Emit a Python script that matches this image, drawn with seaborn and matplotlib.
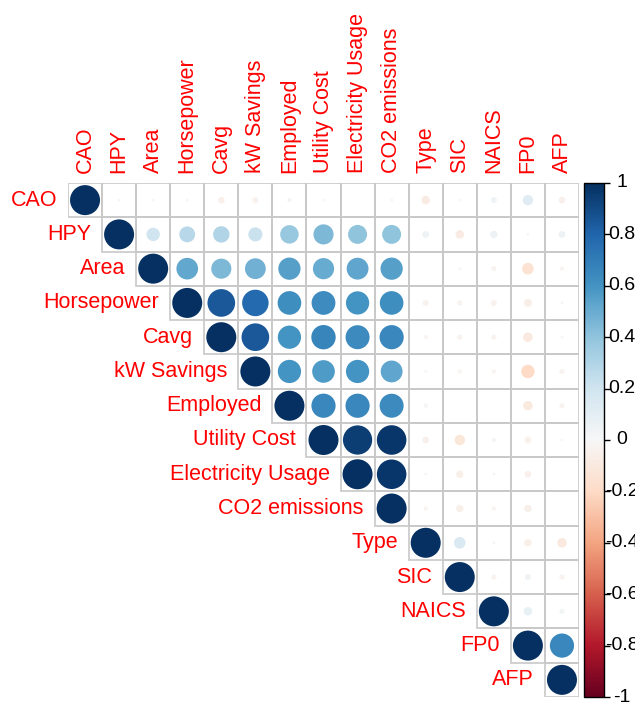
import numpy as np
import pandas as pd
import matplotlib
matplotlib.use("Agg")
import matplotlib.pyplot as plt
from matplotlib.patches import Rectangle
from matplotlib.colors import Normalize
import matplotlib.colorbar as mcolorbar
import seaborn as sns

sns.set_style("white")
plt.rcParams["font.family"] = ["Liberation Sans", "DejaVu Sans"]

variables = ["CAO", "HPY", "Area", "Horsepower", "Cavg", "kW Savings", "Employed",
             "Utility Cost", "Electricity Usage", "CO2 emissions", "Type", "SIC",
             "NAICS", "FP0", "AFP"]

# upper-triangle correlations, one list per row (starting at the diagonal)
r_cao = [1.00, 0.01, 0.01, 0.01, -0.05, -0.04, 0.02, 0.01, 0.00, 0.01, -0.08, 0.01, 0.04, 0.12, -0.05]
r_hpy = [1.00, 0.20, 0.28, 0.30, 0.22, 0.38, 0.45, 0.40, 0.40, 0.05, -0.08, 0.06, 0.01, 0.05]
r_area = [1.00, 0.52, 0.45, 0.48, 0.55, 0.50, 0.53, 0.55, 0.00, 0.01, -0.03, -0.15, -0.02]
r_hp = [1.00, 0.85, 0.78, 0.62, 0.63, 0.60, 0.62, -0.04, -0.03, -0.04, -0.07, -0.01]
r_cavg = [1.00, 0.85, 0.60, 0.66, 0.64, 0.65, -0.02, -0.03, -0.03, -0.10, 0.01]
r_kw = [1.00, 0.60, 0.57, 0.60, 0.53, 0.01, -0.02, -0.02, -0.20, -0.03]
r_emp = [1.00, 0.65, 0.65, 0.64, 0.02, 0.00, 0.00, -0.10, -0.03]
r_util = [1.00, 0.95, 0.97, -0.05, -0.12, -0.02, -0.05, 0.01]
r_elec = [1.00, 0.97, -0.01, -0.06, -0.01, -0.05, 0.00]
r_co2 = [1.00, -0.02, -0.06, -0.02, -0.06, 0.00]
r_type = [1.00, 0.15, -0.01, -0.06, -0.10]
r_sic = [1.00, -0.03, 0.04, -0.03]
r_naics = [1.00, 0.08, 0.03]
r_fp0 = [1.00, 0.65]
r_afp = [1.00]

rows = [r_cao, r_hpy, r_area, r_hp, r_cavg, r_kw, r_emp, r_util, r_elec, r_co2,
        r_type, r_sic, r_naics, r_fp0, r_afp]

records = []
for i, vals in enumerate(rows):
    for k, v in enumerate(vals):
        records.append({"row": i, "col": i + k, "r": v, "absr": abs(v)})
df = pd.DataFrame(records)

n = len(variables)
W, H = 635, 703
fig = plt.figure(figsize=(W / 100, H / 100), dpi=100)
ax = fig.add_axes([68 / W, 6 / H, 511 / W, 514 / H])

# cell borders for the upper triangle
for i in range(n):
    for j in range(i, n):
        ax.add_patch(Rectangle((j - 0.5, i - 0.5), 1, 1, fill=False,
                               edgecolor="#c8c8c8", linewidth=1.2, zorder=1))

cmap = plt.get_cmap("RdBu")
dmax_pt = 30 * 72 / 100
sns.scatterplot(data=df, x="col", y="row", hue="r", size="absr",
                palette=cmap, hue_norm=(-1, 1), sizes=(0, dmax_pt ** 2),
                size_norm=(0, 1), legend=False, linewidth=0, ax=ax, zorder=2)

ax.set_xlim(-0.5, n - 0.5)
ax.set_ylim(n - 0.5, -0.5)
ax.set_axis_off()

label_kw = dict(color="#ff0000", fontsize=15.5)
for j, name in enumerate(variables):
    ax.text(j, -0.78, name, rotation=90, ha="center", va="bottom", **label_kw)
for i, name in enumerate(variables):
    ax.text(i - 0.82, i, name, ha="right", va="center", **label_kw)

# colour legend bar
cax = fig.add_axes([584 / W, 6 / H, 20 / W, 514 / H])
cb = mcolorbar.ColorbarBase(cax, cmap=cmap, norm=Normalize(-1, 1), orientation="vertical")
cb.outline.set_edgecolor("black")
cb.outline.set_linewidth(1)
ticks = np.round(np.arange(-1, 1.01, 0.2), 1)
cax.set_yticks(ticks)
cax.set_yticklabels([])
cax.tick_params(axis="y", direction="out", length=4, width=1, color="black", right=True, left=False)
for t in ticks:
    lab = "0" if abs(t) < 1e-9 else ("%g" % t)
    cax.text(1.9, t, lab, ha="center", va="center", fontsize=14, color="black",
             transform=cax.get_yaxis_transform(), clip_on=False)

fig.savefig("out.png", dpi=100)
